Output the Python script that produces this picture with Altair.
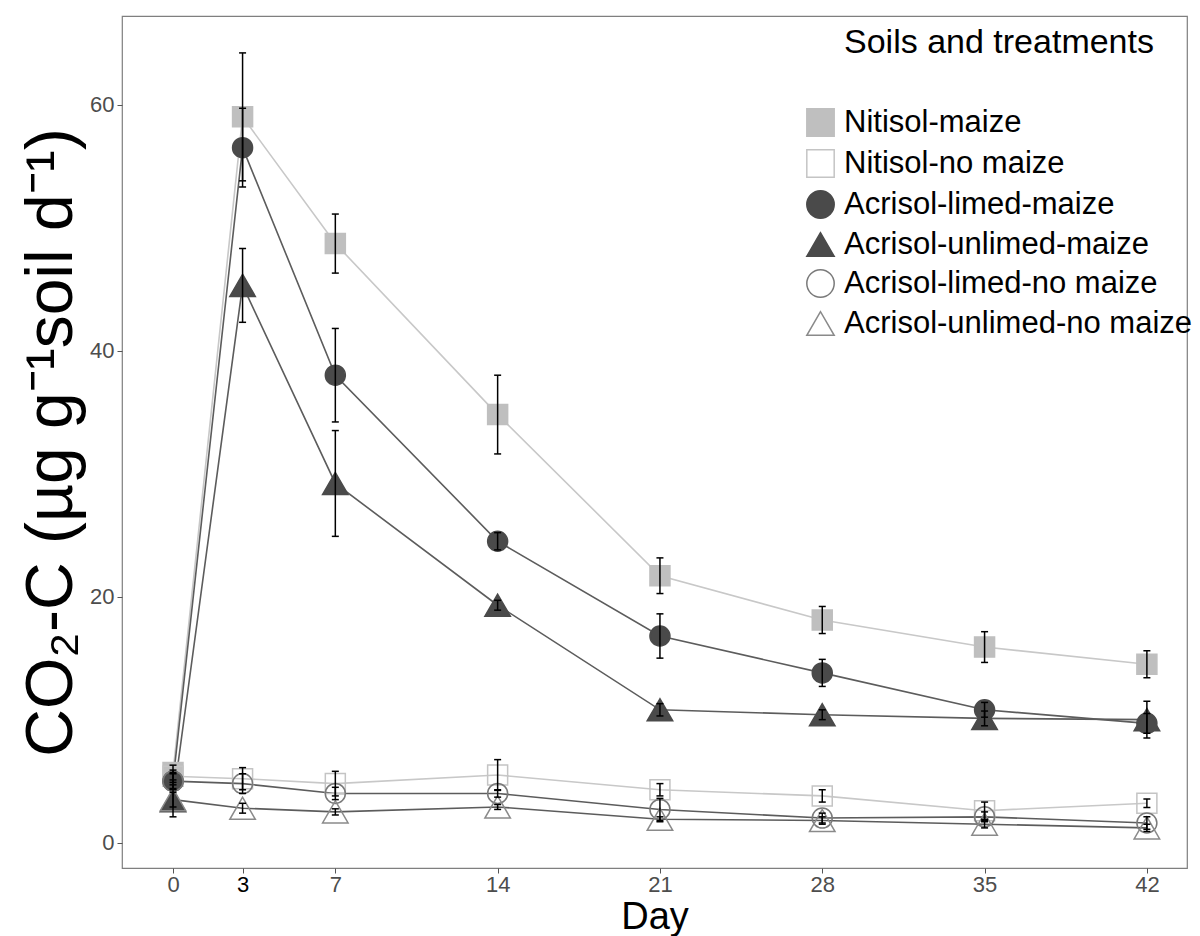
import altair as alt
import pandas as pd

# ---------------- data ----------------
days = [0, 3, 7, 14, 21, 28, 35, 42]

series_names = [
    "Nitisol-maize",
    "Nitisol-no maize",
    "Acrisol-limed-maize",
    "Acrisol-unlimed-maize",
    "Acrisol-limed-no maize",
    "Acrisol-unlimed-no maize",
]
soils = ["Nitisol", "Acrisol"]

nitisol_maize = [5.7, 59.0, 48.7, 34.8, 21.7, 18.1, 15.9, 14.5]
nitisol_maize_err = [0.6, 5.2, 2.4, 3.2, 1.45, 1.1, 1.25, 1.1]

nitisol_nomaize = [5.4, 5.2, 4.8, 5.5, 4.3, 3.8, 2.6, 3.2]
nitisol_nomaize_err = [0.5, 0.9, 1.0, 1.25, 0.5, 0.5, 0.7, 0.35]

acrisol_limed_maize = [5.0, 56.5, 38.0, 24.5, 16.8, 13.8, 10.8, 9.7]
acrisol_limed_maize_err = [0.7, 3.2, 3.8, 0.7, 1.8, 1.1, 0.6, 0.8]

acrisol_unlimed_maize = [3.4, 45.3, 29.2, 19.3, 10.8, 10.4, 10.1, 10.0]
acrisol_unlimed_maize_err = [1.3, 3.0, 4.3, 0.4, 0.5, 0.4, 0.6, 1.5]

acrisol_limed_nomaize = [5.0, 4.8, 4.0, 4.0, 2.7, 2.0, 2.1, 1.6]
acrisol_limed_nomaize_err = [0.6, 0.8, 0.5, 0.3, 0.9, 0.4, 0.4, 0.5]

acrisol_unlimed_nomaize = [3.5, 2.8, 2.5, 2.9, 1.9, 1.8, 1.5, 1.2]
acrisol_unlimed_nomaize_err = [0.6, 0.4, 0.25, 0.2, 0.2, 0.3, 0.3, 0.3]

x_ticks = days
y_ticks = [0, 20, 40, 60]

# ---------------- styles ----------------
point_shapes = ["square", "square", "circle", "triangle-up", "circle", "triangle-up"]
point_fills = ["#bfbfbf", "transparent", "#4a4a4a", "#4a4a4a", "transparent", "transparent"]
point_strokes = ["#bfbfbf", "#c4c4c4", "#4a4a4a", "#4a4a4a", "#7a7a7a", "#8a8a8a"]
soil_line_colors = ["#c8c8c8", "#5c5c5c"]

all_vals = [nitisol_maize, nitisol_nomaize, acrisol_limed_maize,
            acrisol_unlimed_maize, acrisol_limed_nomaize, acrisol_unlimed_nomaize]
all_errs = [nitisol_maize_err, nitisol_nomaize_err, acrisol_limed_maize_err,
            acrisol_unlimed_maize_err, acrisol_limed_nomaize_err, acrisol_unlimed_nomaize_err]

rows = []
for name, vals, errs in zip(series_names, all_vals, all_errs):
    soil = name.split("-")[0]
    for d, v, e in zip(days, vals, errs):
        rows.append({"day": d, "series": name, "soil": soil, "value": v, "lo": v - e, "hi": v + e})
df = pd.DataFrame(rows)

FONT = "Liberation Sans"
ytitle = "CO\u2082-C (\u00b5g g\u207b\u00b9soil d\u207b\u00b9)"
legend_title = "Soils and treatments"

xscale = alt.Scale(domain=[-2.2, 43.73], nice=False, zero=False)
yscale = alt.Scale(domain=[-2.06, 67.2], nice=False, zero=False)

xaxis = alt.Axis(
    values=x_ticks, grid=False, domain=False,
    labelFontSize=22, labelFont=FONT,
    labelColor={"condition": {"test": "datum.value == 3", "value": "black"}, "value": "#4d4d4d"},
    tickColor="#555555", tickSize=5, labelPadding=1,
    titleFontSize=38, titleFont=FONT, titleFontWeight="normal", titleColor="black",
    titlePadding=3,
)
yaxis = alt.Axis(
    values=y_ticks, grid=False, domain=False,
    labelFontSize=22, labelFont=FONT, labelColor="#4d4d4d",
    tickColor="#555555", tickSize=5, labelPadding=3,
    titleFontSize=66, titleFont=FONT, titleFontWeight="normal", titleColor="black",
    titlePadding=4,
)

X = alt.X("day:Q", scale=xscale, axis=xaxis, title="Day")
Yv = alt.Y("value:Q", scale=yscale, axis=yaxis, title=ytitle)

legend = alt.Legend(
    title=legend_title,
    orient="none", legendX=683, legendY=10,
    titleFontSize=34, titleFont=FONT, titleFontWeight="normal", titleColor="black",
    titleAnchor="middle", titlePadding=47, titleLimit=600,
    labelFontSize=31, labelFont=FONT, labelColor="black", labelLimit=600,
    symbolSize=750, symbolStrokeWidth=1.5, rowPadding=6, labelOffset=8,
    padding=0,
)

base = alt.Chart(df)

lines = base.mark_line(strokeWidth=1.6).encode(
    x=X, y=Yv,
    color=alt.Color("soil:N", scale=alt.Scale(domain=soils, range=soil_line_colors), legend=None),
    detail="series:N",
)

point_enc = dict(
    x=X, y=Yv,
    shape=alt.Shape("series:N", scale=alt.Scale(domain=series_names, range=point_shapes),
                    legend=legend, title=legend_title),
    stroke=alt.Stroke("series:N", scale=alt.Scale(domain=series_names, range=point_strokes),
                      legend=legend, title=legend_title),
    fill=alt.Fill("series:N", scale=alt.Scale(domain=series_names, range=point_fills),
                  legend=legend, title=legend_title),
)

points_round = base.transform_filter(
    "indexof(datum.series, 'unlimed') < 0"
).mark_point(filled=False, strokeWidth=1.5, opacity=1, size=400).encode(**point_enc)

points_tri = base.transform_filter(
    "indexof(datum.series, 'unlimed') >= 0"
).mark_point(filled=False, strokeWidth=1.5, opacity=1, size=650).encode(**point_enc)

rules = base.mark_rule(color="black", strokeWidth=1.5).encode(
    x=X,
    y=alt.Y("lo:Q", scale=yscale, axis=yaxis, title=ytitle),
    y2="hi:Q",
)
caps_lo = base.mark_tick(color="black", thickness=1.5, size=7, orient="horizontal", opacity=1).encode(
    x=X,
    y=alt.Y("lo:Q", scale=yscale, axis=yaxis, title=ytitle),
)
caps_hi = base.mark_tick(color="black", thickness=1.5, size=7, orient="horizontal", opacity=1).encode(
    x=X,
    y=alt.Y("hi:Q", scale=yscale, axis=yaxis, title=ytitle),
)

chart = alt.layer(lines, points_round, points_tri, rules, caps_lo, caps_hi).properties(
    width=1065,
    height=852,
    autosize=alt.AutoSizeParams(type="none"),
    padding={"left": 122, "top": 16, "right": 13, "bottom": 68},
    background="white",
).configure(font=FONT).configure_view(stroke="#7f7f7f", strokeWidth=1.2)

chart.save("out.html", embed_options={"renderer": "svg", "actions": False})
